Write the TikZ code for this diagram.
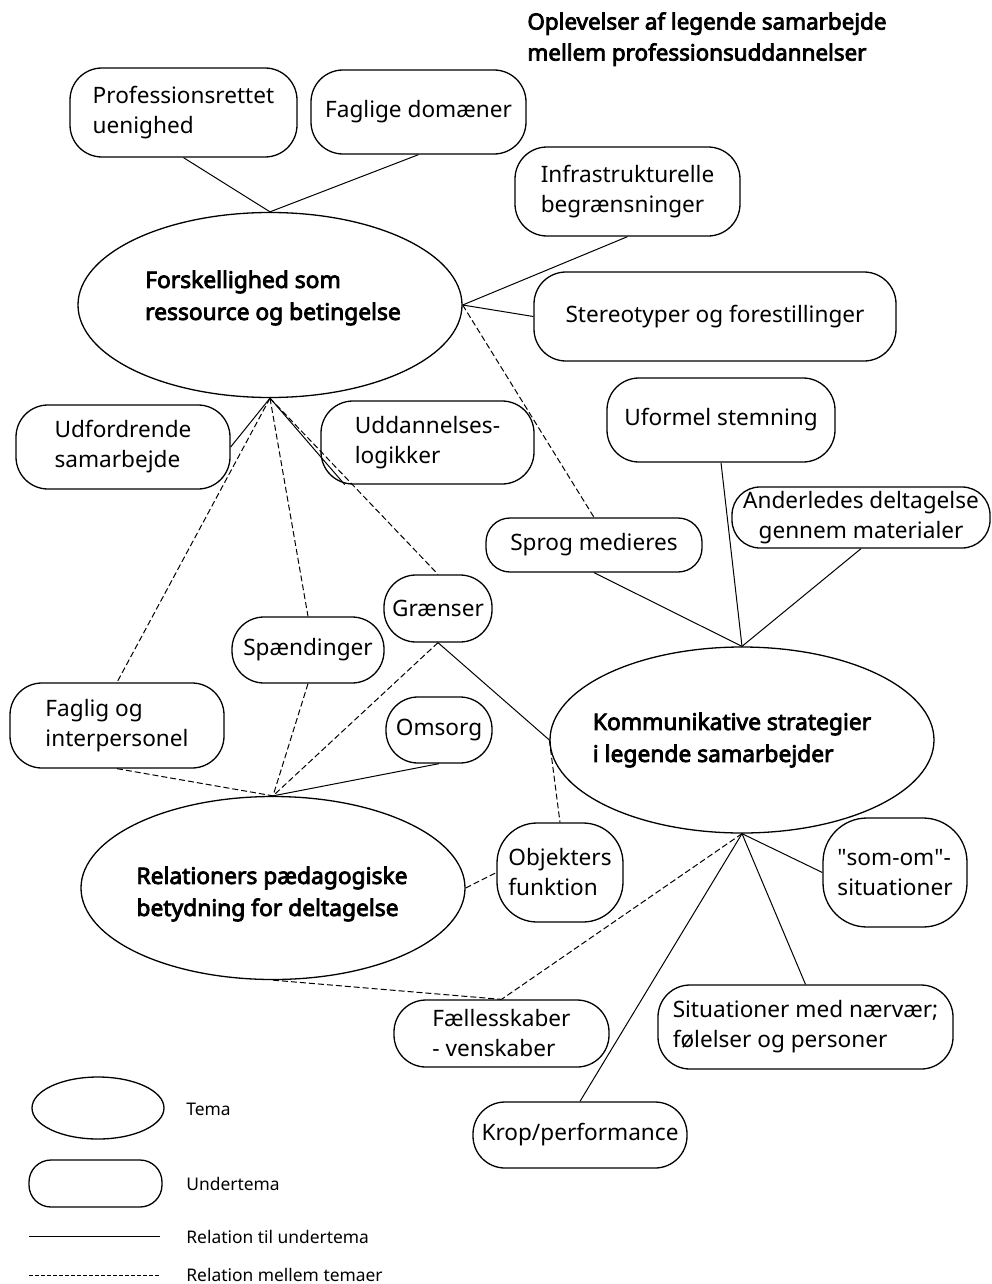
\documentclass[tikz,border=0pt]{standalone}
\usepackage{fontspec}
\setmainfont{Noto Sans}[AutoFakeBold=3.5]
\newfontfamily\rawfont{Noto Sans}
\usetikzlibrary{shapes.geometric}

\begin{document}
\begin{tikzpicture}[x=0.5pt,y=-0.5pt,
  tema/.style={ellipse,draw,line width=0.65pt,inner sep=0pt},
  temaskrift/.style={align=left,inner sep=0pt,font=\bfseries\fontsize{11.4}{16}\selectfont},
  undertema/.style={rectangle,draw,line width=0.65pt,rounded corners=16pt,align=left,inner sep=0pt,font=\fontsize{11.3}{15}\selectfont},
  rel/.style={line width=0.5pt},
  reltema/.style={line width=0.5pt,dash pattern=on 3pt off 1.5pt},
  legtxt/.style={anchor=west,inner sep=0pt,font=\fontsize{8.7}{10}\selectfont}]
\useasboundingbox (0,0) rectangle (991,1284);

\node[anchor=north west,align=left,inner sep=0pt,font=\bfseries\fontsize{11.2}{15.5}\selectfont] (titel) at (527,12) {Oplevelser af legende samarbejde\\mellem professionsuddannelser};

% temaer
\node[tema,minimum width=192pt,minimum height=92.5pt] (forsk) at (270,305) {};
\node[temaskrift] (forsktxt) at (273,298) {Forskellighed som\\ressource og betingelse};
\node[tema,minimum width=192pt,minimum height=93pt] (komm) at (742,740) {};
\node[temaskrift] (kommtxt) at (732,740) {Kommunikative strategier\\i legende samarbejder};
\node[tema,minimum width=192pt,minimum height=91.5pt] (relat) at (273,888) {};
\node[temaskrift] (relattxt) at (272,894) {Relationers pædagogiske\\betydning for deltagelse};

% undertemaer
\node[undertema,minimum width=113.5pt,minimum height=44.5pt] (prof) at (183.5,112.5) {Professionsrettet\\uenighed};
\node[undertema,minimum width=107.5pt,minimum height=42pt] (fagdom) at (418.5,112) {Faglige domæner};
\node[undertema,minimum width=112.5pt,minimum height=44.5pt] (infra) at (627.5,191.5) {Infrastrukturelle\\begrænsninger};
\node[undertema,minimum width=181pt,minimum height=44.5pt] (stereo) at (715,316.5) {Stereotyper og forestillinger};
\node[undertema,minimum width=107pt,minimum height=42pt] (udfor) at (123,447) {Udfordrende\\samarbejde};
\node[undertema,minimum width=106.5pt,minimum height=41.5pt] (uddan) at (427.5,442.5) {Uddannelses-\\logikker};
\node[undertema,minimum width=114pt,minimum height=42pt] (uform) at (721,420) {Uformel stemning};
\node[undertema,minimum width=129pt,minimum height=30.5pt,rounded corners=14pt,align=center] (ander) at (861,517.5) {Anderledes deltagelse\\gennem materialer};
\node[undertema,minimum width=108pt,minimum height=27pt,rounded corners=12pt] (sprog) at (594,545) {Sprog medieres};
\node[undertema,minimum width=54pt,minimum height=33.5pt] (graens) at (438,608.5) {Grænser};
\node[undertema,minimum width=76pt,minimum height=33pt] (spaend) at (308,650) {Spændinger};
\node[undertema,minimum width=107pt,minimum height=42.5pt] (faglig) at (117,725.5) {Faglig og\\interpersonel};
\node[undertema,minimum width=53pt,minimum height=33pt] (omsorg) at (439,730) {Omsorg};
\node[undertema,minimum width=63pt,minimum height=49.5pt,rounded corners=20pt] (objekt) at (560,872.5) {Objekters\\funktion};
\node[undertema,minimum width=72pt,minimum height=54.5pt,rounded corners=22pt] (somom) at (895,872.5) {{\rawfont"}som-om{\rawfont"}-\\situationer};
\node[undertema,minimum width=107.5pt,minimum height=33.5pt] (faelles) at (501.5,1033.5) {Fællesskaber\\- venskaber};
\node[undertema,minimum width=147.5pt,minimum height=42pt] (situ) at (805.5,1027) {Situationer med nærvær;\\følelser og personer};
\node[undertema,minimum width=107pt,minimum height=33pt] (krop) at (580,1135) {Krop/performance};

% relationer
\draw[rel] (prof.south) -- (forsk.north);
\draw[rel] (fagdom.south) -- (forsk.north);
\draw[rel] (infra.south) -- (forsk.east);
\draw[rel] (stereo.west) -- (forsk.east);
\draw[reltema] (forsk.east) -- (sprog.north);
\draw[rel] (forsk.south) -- (udfor.east);
\draw[rel] (forsk.south) -- (uddan.-153);
\draw[reltema] (forsk.south) -- (faglig.north);
\draw[reltema] (forsk.south) -- (spaend.north);
\draw[reltema] (forsk.south) -- (graens.north);

\draw[rel] (sprog.south) -- (komm.north);
\draw[rel] (uform.south) -- (komm.north);
\draw[rel] (ander.south) -- (komm.north);

\draw[reltema] (graens.south) -- (relat.north);
\draw[rel] (graens.south) -- (komm.west);
\draw[reltema] (komm.west) -- (objekt.north);
\draw[rel] (omsorg.south) -- (relat.north);
\draw[reltema] (faglig.south) -- (relat.north);
\draw[reltema] (spaend.south) -- (relat.north);
\draw[reltema] (relat.east) -- (objekt.west);
\draw[reltema] (relat.south) -- (faelles.north);

\draw[reltema] (komm.south) -- (faelles.north);
\draw[rel] (komm.south) -- (somom.west);
\draw[rel] (komm.south) -- (situ.north);
\draw[rel] (komm.south) -- (krop.north);

% forklaring
\node[tema,minimum width=66pt,minimum height=31pt] (legtema) at (98,1108) {};
\node[legtxt] (legtematxt) at (186,1109) {Tema};
\node[undertema,minimum width=66.5pt,minimum height=23.5pt,rounded corners=11pt] (legunder) at (95.5,1183.5) {};
\node[legtxt] (legundertxt) at (186,1184) {Undertema};
\coordinate (lrel1) at (29,1236);
\coordinate (lrel2) at (160,1236);
\draw[rel] (lrel1) -- (lrel2);
\node[legtxt] (legrel) at (186,1237) {Relation til undertema};
\coordinate (ltem1) at (29,1275);
\coordinate (ltem2) at (160,1275);
\draw[reltema,dash pattern=on 2pt off 1pt] (ltem1) -- (ltem2);
\node[legtxt] (legtem) at (186,1275) {Relation mellem temaer};

\end{tikzpicture}
\end{document}
